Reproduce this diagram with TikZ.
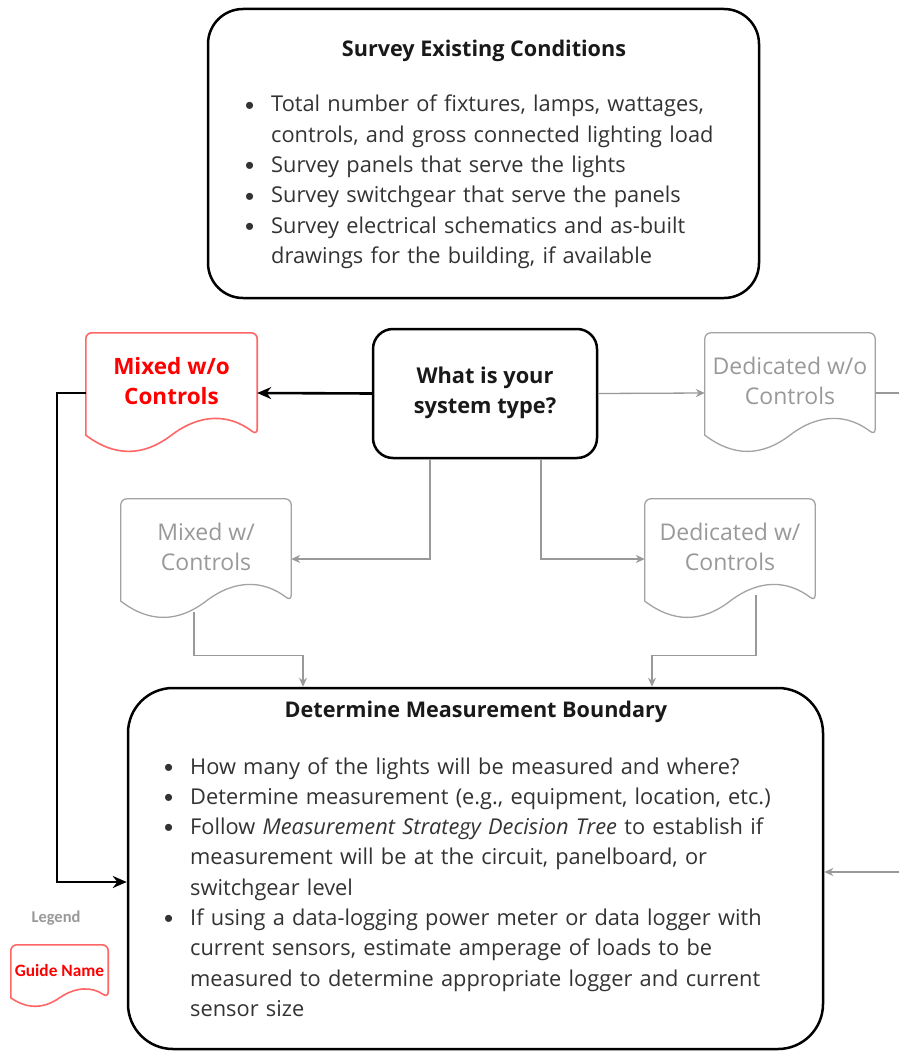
\documentclass[tikz,border=0pt]{standalone}
\usepackage{fontspec}
\setmainfont{Open Sans}
\newfontfamily\legendfont{Carlito}
\newfontfamily\bulfont{Liberation Sans}
\usetikzlibrary{arrows.meta,calc}
\definecolor{docred}{HTML}{FF6666}
\definecolor{txtred}{HTML}{FF0000}
\definecolor{lgray}{HTML}{999999}
\definecolor{bodytxt}{HTML}{333333}
\newcommand\bulmark{\hangindent=26pt\hangafter=1\makebox[26pt][l]{\raisebox{-2.2pt}{\bulfont\fontsize{26}{26}\selectfont\textbullet}}}
\newcommand\bulfirst{\noindent\bulmark}
\newcommand\bul{\par\noindent\bulmark}
\newcommand\docoutline[2]{%
 \draw[#2] let \p1=(#1.north west), \p2=(#1.south east), \n1={\y1-\y2}, \n2={\x2-\x1} in
 {[rounded corners=6pt] (\x1,{\y2+0.15*\n1}) -- (\x1,\y1) -- (\x2,\y1) -- (\x2,{\y2+0.15*\n1})}
 .. controls ({\x2-\n2/6},{\y2+0.33*\n1}) and ({(\x1+\x2)/2+\n2/6},{\y2+0.33*\n1}) .. ({(\x1+\x2)/2},{\y2+0.15*\n1})
 .. controls ({(\x1+\x2)/2-\n2/6},{\y2-0.03*\n1}) and ({\x1+\n2/6},{\y2-0.03*\n1}) .. (\x1,{\y2+0.15*\n1}) -- cycle;}
\begin{document}
\begin{tikzpicture}[x=1pt,y=-1pt,
  bigbox/.style={draw=black, line width=2.5pt, rounded corners=#1, inner sep=0pt},
  titletext/.style={inner sep=0pt, font=\bfseries\fontsize{21.6}{26}\selectfont, text=black!90},
  listtext/.style={inner sep=0pt, align=left, font=\fontsize{21.8}{30.3}\selectfont, text=bodytxt},
  docbox/.style={inner sep=0pt, minimum height=120pt},
  redtext/.style={inner sep=0pt, align=center, text=txtred, font=\bfseries\fontsize{22.5}{30}\selectfont},
  graytext/.style={inner sep=0pt, align=center, text=lgray, font=\fontsize{23}{30}\selectfont},
  blackarrow/.style={draw=black, line width=2.6pt, -{Stealth[length=14pt,width=12pt]}},
  grayline/.style={draw=lgray, line width=1.3pt},
  grayarrow/.style={grayline, -{Stealth[length=9pt,width=8pt]}},
  docred/.style={draw=docred, line width=1.6pt},
  docgray/.style={draw=lgray!90, line width=1.3pt}]
\fill[white] (0,0) rectangle (899,1051);
\useasboundingbox (0,0) rectangle (899,1051);

% top box
\node[bigbox=35pt, minimum width=551pt, minimum height=289pt] (survey) at (483.5,153.5) {};
\node[titletext] (surveytitle) at (484,51) {Survey Existing Conditions};
\node[listtext, text width=520pt, anchor=base west] (surveylist) at (245,112) {%
\bulfirst Total number of fixtures, lamps, wattages,\newline controls, and gross connected lighting load
\bul Survey panels that serve the lights
\bul Survey switchgear that serve the panels
\bul Survey electrical schematics and as-built\newline drawings for the building, if available\par};

% decision
\node[bigbox=20pt, minimum width=224pt, minimum height=129pt] (dec) at (485,393.5) {};
\node[inner sep=0pt, align=center, font=\bfseries\fontsize{21.8}{30}\selectfont, text=black!90] (dectext) at (485,393) {What is your\\system type?};

% documents
\node[docbox, minimum width=171pt] (mwo) at (171.5,393) {};
\docoutline{mwo}{docred}
\node[redtext] (mwotext) at (171.5,381) {Mixed w/o\\Controls};

\node[docbox, minimum width=170pt] (dwo) at (790,393) {};
\docoutline{dwo}{docgray}
\node[graytext] (dwotext) at (790,381) {Dedicated w/o\\Controls};

\node[docbox, minimum width=170pt] (mw) at (206,559) {};
\docoutline{mw}{docgray}
\node[graytext] (mwtext) at (206,547) {Mixed w/\\Controls};

\node[docbox, minimum width=170pt] (dw) at (730,559) {};
\docoutline{dw}{docgray}
\node[graytext] (dwtext) at (730,547) {Dedicated w/\\Controls};

% bottom box
\node[bigbox=45pt, minimum width=695pt, minimum height=361pt] (bot) at (475.5,868.5) {};
\node[titletext] (bottitle) at (476,712) {Determine Measurement Boundary};
\node[listtext, text width=650pt, anchor=base west] (botlist) at (164,774) {%
\bulfirst How many of the lights will be measured and where?
\bul Determine measurement (e.g., equipment, location, etc.)
\bul Follow \textit{Measurement Strategy Decision Tree} to establish if\newline measurement will be at the circuit, panelboard, or\newline switchgear level
\bul If using a data-logging power meter or data logger with\newline current sensors, estimate amperage of loads to be\newline measured to determine appropriate logger and current\newline sensor size\par};

% legend
\node[inner sep=0pt, text=lgray, font=\legendfont\bfseries\fontsize{16.5}{18}\selectfont] (legendtitle) at (56,918) {Legend};
\node[docbox, minimum width=97pt, minimum height=62pt] (legdoc) at (59.5,976) {};
\docoutline{legdoc}{docred}
\node[inner sep=0pt, text=txtred, font=\legendfont\bfseries\fontsize{17.3}{20}\selectfont] (legtext) at (59.5,970) {Guide Name};

% connectors
\coordinate (edgeA) at (899,393);
\coordinate (edgeB) at (899,872);
\draw[blackarrow] (dec.west) -- (mwo.east);
\draw[blackarrow] (mwo.west) -- ++(-29,0) |- ([yshift=-13.5pt]bot.west);
\draw[grayarrow] (dec.east) -- (dwo.west);
\draw[grayline] (dwo.east) -- (edgeA);
\draw[grayarrow] ([xshift=-55pt]dec.south) |- (mw.east);
\draw[grayarrow] ([xshift=56pt]dec.south) |- (dw.west);
\draw[grayarrow] ([xshift=-12pt,yshift=7pt]mw.south) -- ++(0,43) -| ([xshift=-172.5pt]bot.north);
\draw[grayarrow] ([xshift=26pt,yshift=24pt]dw.south) -- ++(0,60) -| ([xshift=176.5pt]bot.north);
\draw[grayarrow] (edgeB) -- ([yshift=-3.5pt]bot.east);
\end{tikzpicture}
\end{document}
